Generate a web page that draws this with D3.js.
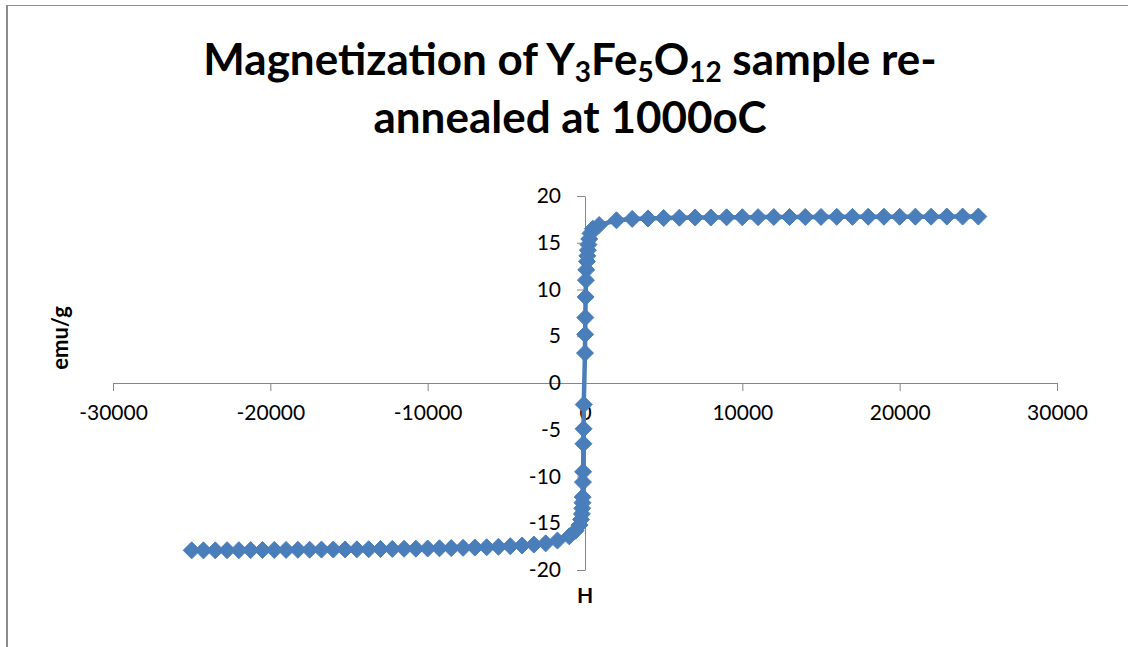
<!DOCTYPE html>
<html>
<head>
<meta charset="utf-8">
<title>Magnetization of Y3Fe5O12</title>
<script src="https://cdn.jsdelivr.net/npm/d3@7/dist/d3.min.js"></script>
<style>
    body { margin: 0; background: #fff; }
    svg { display: block; }
</style>
</head>
<body>
<script>
// field H (Oe) and magnetization (emu/g), one continuous line
var fieldH = [-25000, -24250, -23500, -22750, -22000, -21250, -20500, -19750, -19000, -18250,
              -17500, -16750, -16000, -15250, -14500, -13750, -13000, -12250, -11500, -10750,
              -10000, -9250, -8500, -7750, -7000, -6250, -5500, -4750, -4000, -3250,
              -2500, -1750, -1000, -600, -350, -250, -200, -180, -160, -150,
              -130, -120, -100, -90, -80,
              0, 10, 20, 40, 60, 80, 120, 150, 180, 220, 270, 350, 500, 900,
              2000, 3000, 4000, 5000, 6000, 7000, 8000, 9000, 10000, 11000,
              12000, 13000, 14000, 15000, 16000, 17000, 18000, 19000, 20000, 21000,
              22000, 23000, 24000, 25000];
var moment = [-17.9, -17.9, -17.9, -17.88, -17.88, -17.87, -17.86, -17.85, -17.85, -17.84,
              -17.83, -17.82, -17.81, -17.8, -17.79, -17.78, -17.76, -17.75, -17.73, -17.72,
              -17.7, -17.68, -17.66, -17.63, -17.6, -17.57, -17.52, -17.45, -17.38, -17.28,
              -17.15, -16.85, -16.4, -15.8, -15.2, -14.6, -14.0, -13.4, -12.8, -12.2,
              -10.6, -9.5, -6.5, -4.9, -2.3,
              3.2, 5.2, 7.0, 9.2, 11.0, 12.1, 13.0, 13.6, 14.2, 14.8, 15.4, 16.0, 16.5, 16.9,
              17.4, 17.55, 17.6, 17.65, 17.68, 17.7, 17.7, 17.72, 17.73, 17.74,
              17.75, 17.75, 17.76, 17.76, 17.77, 17.77, 17.78, 17.78, 17.78, 17.79,
              17.79, 17.8, 17.8, 17.8];
var xTicks = [-30000, -20000, -10000, 0, 10000, 20000, 30000];
var yTicks = [-20, -15, -10, -5, 0, 5, 10, 15, 20];

var W = 1128, H = 647;
var blue = "#4A7EBB";
var font = "Lato, 'Open Sans', sans-serif";

var svg = d3.select("body").append("svg").attr("width", W).attr("height", H);

// chart area border
svg.append("line").attr("x1", 7).attr("y1", 5.5).attr("x2", W).attr("y2", 5.5)
    .attr("stroke", "#8c8c8c").attr("stroke-width", 1);
svg.append("line").attr("x1", 7).attr("y1", 5).attr("x2", 7).attr("y2", H)
    .attr("stroke", "#8c8c8c").attr("stroke-width", 2);

var x = d3.scaleLinear().domain([-30000, 30000]).range([113, 1057]);
var y = d3.scaleLinear().domain([-20, 20]).range([570, 196]);

// title (two lines, subscripts in the formula)
var title = svg.append("text").attr("text-anchor", "middle")
    .attr("font-family", font).attr("font-weight", "bold").attr("font-size", 44)
    .attr("fill", "#000");
var t1 = title.append("tspan").attr("x", 570).attr("y", 75);
t1.append("tspan").text("Magnetization of Y");
t1.append("tspan").text("3").attr("font-size", 28).attr("dy", 7);
t1.append("tspan").text("Fe").attr("dy", -7);
t1.append("tspan").text("5").attr("font-size", 28).attr("dy", 7);
t1.append("tspan").text("O").attr("dy", -7);
t1.append("tspan").text("12").attr("font-size", 28).attr("dy", 7);
t1.append("tspan").text(" sample re-").attr("dy", -7);
svg.append("text").attr("text-anchor", "middle")
    .attr("font-family", font).attr("font-weight", "bold").attr("font-size", 44)
    .attr("x", 570).attr("y", 133).text("annealed at 1000oC");

// axes
var xAxis = svg.append("g").attr("transform", "translate(0," + y(0) + ")")
    .call(d3.axisBottom(x).tickValues(xTicks).tickSize(8).tickSizeOuter(0).tickPadding(14)
        .tickFormat(function(d) { return String(d); }));
var yAxis = svg.append("g").attr("transform", "translate(" + x(0) + ",0)")
    .call(d3.axisLeft(y).tickValues(yTicks).tickSize(8).tickSizeOuter(0).tickPadding(16)
        .tickFormat(function(d) { return String(d); }));

[xAxis, yAxis].forEach(function(a) {
    a.select(".domain").attr("stroke", "#868686");
    a.selectAll(".tick line").attr("stroke", "#868686");
    a.selectAll(".tick text").attr("font-family", font).attr("font-size", 21).attr("fill", "#000");
});

// axis titles
svg.append("text").attr("transform", "translate(68,338) rotate(-90)")
    .attr("text-anchor", "middle").attr("font-family", font).attr("font-weight", "bold")
    .attr("font-size", 22).text("emu/g");
svg.append("text").attr("x", x(0)).attr("y", 603)
    .attr("text-anchor", "middle").attr("font-family", font).attr("font-weight", "bold")
    .attr("font-size", 21).text("H");

// series
var pts = fieldH.map(function(h, i) { return [h, moment[i]]; });
svg.append("path").datum(pts)
    .attr("fill", "none").attr("stroke", blue).attr("stroke-width", 4.5)
    .attr("stroke-linejoin", "round")
    .attr("d", d3.line().x(function(d) { return x(d[0]); }).y(function(d) { return y(d[1]); }));

svg.selectAll("path.mk").data(pts).enter().append("path")
    .attr("class", "mk")
    .attr("transform", function(d) { return "translate(" + x(d[0]) + "," + y(d[1]) + ")"; })
    .attr("d", "M0,-8.5L8.5,0L0,8.5L-8.5,0Z")
    .attr("fill", blue).attr("stroke", blue).attr("stroke-width", 1);
</script>
</body>
</html>
